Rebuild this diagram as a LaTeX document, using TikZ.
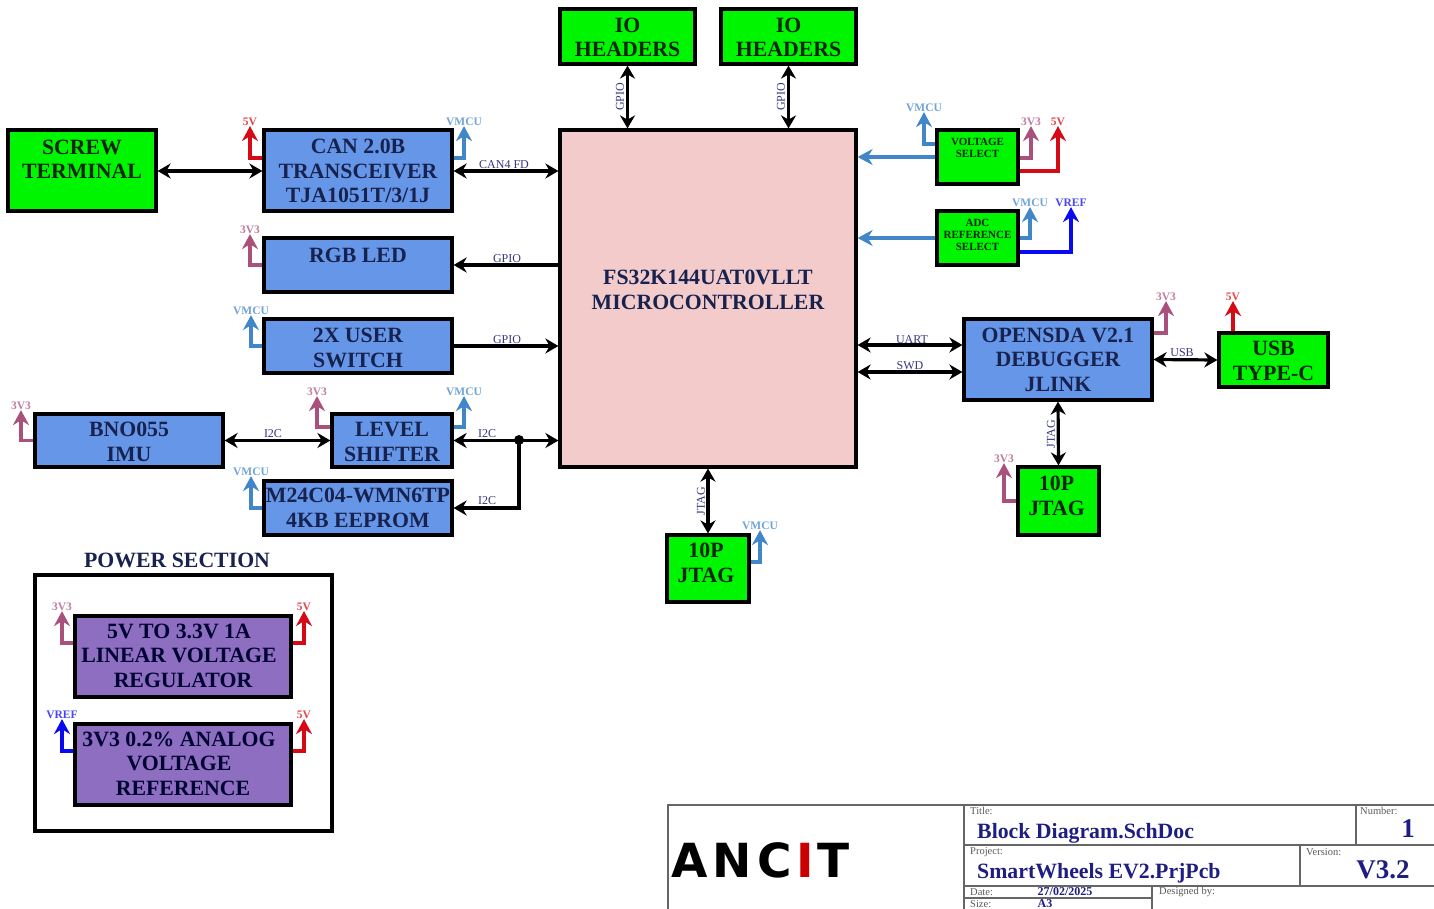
\documentclass[tikz,border=0pt]{standalone}
\usepackage{fontspec}
\setmainfont{Liberation Serif}
\newfontfamily\logofont{DejaVu Sans}
\usetikzlibrary{arrows.meta,calc}
\definecolor{chipgreen}{RGB}{0,245,0}
\definecolor{chipblue}{RGB}{102,150,232}
\definecolor{chippink}{RGB}{243,203,203}
\definecolor{chippurple}{RGB}{142,110,192}
\definecolor{inkblue}{RGB}{24,34,78}
\definecolor{railfive}{RGB}{214,10,20}
\definecolor{railthree}{RGB}{170,80,125}
\definecolor{railmcu}{RGB}{64,134,200}
\definecolor{railref}{RGB}{10,10,240}
\definecolor{navytext}{RGB}{30,30,130}
\tikzset{
  lift/.style={text height=#1,text depth=0pt},
  block/.style={draw=black,line width=3.2pt,inner sep=0pt,align=center,lift=41pt,
    font=\fontsize{21.8}{24.5}\selectfont\bfseries,text=inkblue},
  greenblock/.style={block,fill=chipgreen,text=black!85!green},
  blueblock/.style={block,fill=chipblue},
  purpleblock/.style={block,fill=chippurple,text=black!80!blue,lift=61pt},
  tinyblock/.style={greenblock,text height={},font=\fontsize{11}{12}\selectfont\bfseries},
  bus/.style={line width=3.2pt,{Stealth[length=13pt,width=15pt]}-{Stealth[length=13pt,width=15pt]}},
  bus1/.style={line width=3.2pt,-{Stealth[length=13pt,width=15pt]}},
  rail/.style={line width=3.6pt,color=#1,-{Stealth[length=15pt,width=16pt]}},
  railtag/.style={font=\fontsize{11.5}{12}\selectfont\bfseries,text=#1,inner sep=0pt,text opacity=.75},
  wiretag/.style={font=\fontsize{12}{12}\selectfont,text=navytext!75!gray,inner sep=0pt},
  grid/.style={line width=1.3pt,draw=black!60},
  small/.style={font=\fontsize{10.5}{12}\selectfont,text=black!65,inner sep=0pt,anchor=west},
  big/.style={font=\fontsize{#1}{24}\selectfont\bfseries,text=navytext,inner sep=0pt}
}
\begin{document}
\begin{tikzpicture}[x=1pt,y=-1pt]
  \useasboundingbox (0,0) rectangle (1434,909);
  % central device and headers
  \node[block,fill=chippink,minimum width=296pt,minimum height=337pt] (mcu) at (708,298.5) {};
  \node[block,draw=none,lift=38pt] (mcutext) at (708,290) {FS32K144UAT0VLLT\\MICROCONTROLLER};
  \node[greenblock,minimum width=135pt,minimum height=55pt] (hdra) at (627.5,36.5) {IO\\HEADERS};
  \node[greenblock,minimum width=135pt,minimum height=55pt] (hdrb) at (788.5,36.5) {IO\\HEADERS};
  % left column
  \node[greenblock,minimum width=148pt,minimum height=81pt,lift=17pt] (screw) at (82,170.5) {SCREW\\TERMINAL};
  \node[blueblock,minimum width=188pt,minimum height=81pt,lift=65pt] (can) at (358,170.5) {CAN 2.0B\\TRANSCEIVER\\TJA1051T/3/1J};
  \node[blueblock,minimum width=188pt,minimum height=54pt,text height=0pt,text depth=6pt] (rgb) at (358,265) {RGB LED};
  \node[blueblock,minimum width=188pt,minimum height=54pt,lift=42pt] (sw) at (358,346) {2X USER\\SWITCH};
  \node[blueblock,minimum width=188pt,minimum height=53pt] (imu) at (129,440.5) {BNO055\\IMU};
  \node[blueblock,minimum width=120pt,minimum height=53pt] (lvl) at (392,440.5) {LEVEL\\SHIFTER};
  \node[blueblock,minimum width=188pt,minimum height=54pt,lift=38pt] (eep) at (358,508) {M24C04-WMN6TP\\4KB EEPROM};
  % right side
  \node[tinyblock,minimum width=81pt,minimum height=54pt,text depth=18pt] (vsel) at (977.5,157) {VOLTAGE\\SELECT};
  \node[tinyblock,minimum width=81pt,minimum height=54pt,text depth=6pt] (adc) at (977.5,238) {ADC\\REFERENCE\\SELECT};
  \node[blueblock,minimum width=188pt,minimum height=81pt,lift=63pt] (sda) at (1058,359.5) {OPENSDA V2.1\\DEBUGGER\\JLINK};
  \node[greenblock,minimum width=109pt,minimum height=54pt,lift=40pt] (usb) at (1273.5,360) {USB\\TYPE-C};
  \node[greenblock,minimum width=81pt,minimum height=68pt,lift=28pt] (jtagr) at (1058.5,501) {10P\rule{4pt}{0pt}\\JTAG\rule{4pt}{0pt}};
  \node[greenblock,minimum width=82pt,minimum height=67pt,lift=27pt] (jtagb) at (708,568.5) {10P\rule{4pt}{0pt}\\JTAG\rule{4pt}{0pt}};
  % power section
  \node[draw=black,line width=3.2pt,minimum width=297pt,minimum height=256pt] (pwr) at (183.5,703) {};
  \node[font=\fontsize{21.8}{24}\selectfont\bfseries,text=inkblue] (pwrname) at (177,560) {POWER SECTION};
  \node[purpleblock,minimum width=216pt,minimum height=81pt] (reg) at (183,656.5) {5V TO 3.3V 1A\rule{8pt}{0pt}\\LINEAR VOLTAGE\rule{8pt}{0pt}\\REGULATOR};
  \node[purpleblock,minimum width=216pt,minimum height=81pt] (ref) at (183,764.5) {3V3 0.2\% ANALOG\rule{8pt}{0pt}\\VOLTAGE\rule{8pt}{0pt}\\REFERENCE};
  % buses
  \draw[bus] (hdra.south) -- (hdra.south |- mcu.north);
  \draw[bus] (hdrb.south) -- (hdrb.south |- mcu.north);
  \draw[bus] (screw.east |- 0,171) -- (can.west |- 0,171);
  \draw[bus] (can.east |- 0,171) -- (mcu.west |- 0,171);
  \draw[bus1] (mcu.west |- rgb.east) -- (rgb.east);
  \draw[bus1] (sw.east) -- (mcu.west |- sw.east);
  \draw[bus] (imu.east) -- (lvl.west);
  \draw[bus] (lvl.east) -- (mcu.west |- lvl.east);
  \coordinate (tee) at (519,440);
  \fill (tee) circle (5pt);
  \draw[bus1] (tee) |- (eep.east);
  \draw[bus] (mcu.east |- 0,345) -- (sda.west |- 0,345);
  \draw[bus] (mcu.east |- 0,372) -- (sda.west |- 0,372);
  \draw[bus] (sda.east) -- (usb.west);
  \draw[bus] (sda.south) -- (jtagr.north);
  \draw[bus] (mcu.south) -- (jtagb.north);
  % select lines
  \draw[rail=railmcu] (vsel.west) -- (mcu.east |- vsel.west);
  \draw[rail=railmcu] (adc.west) -- (mcu.east |- adc.west);
  % bus names
  \node[wiretag,rotate=90] (gpa) at (620,97) {GPIO};
  \node[wiretag,rotate=90] (gpb) at (781,97) {GPIO};
  \node[wiretag] (cantag) at (504,165) {CAN4 FD};
  \node[wiretag] (rgbtag) at (507,259) {GPIO};
  \node[wiretag] (swtag) at (507,340) {GPIO};
  \node[wiretag] (imutag) at (273,434) {I2C};
  \node[wiretag] (lvltag) at (487,434) {I2C};
  \node[wiretag] (eeptag) at (487,501) {I2C};
  \node[wiretag] (uarttag) at (912,340) {UART};
  \node[wiretag] (swdtag) at (910,366) {SWD};
  \node[wiretag] (usbtag) at (1182,353) {USB};
  \node[wiretag,rotate=90] (jrtag) at (1051,434) {JTAG};
  \node[wiretag,rotate=90] (jbtag) at (701,501) {JTAG};
  % power rails
  \node[railtag=railfive] (v5can) at (250,122) {5V};
  \node[railtag=railmcu] (mcucan) at (464,122) {VMCU};
  \node[railtag=railthree] (v3rgb) at (250,230) {3V3};
  \node[railtag=railmcu] (mcusw) at (251,311) {VMCU};
  \node[railtag=railthree] (v3imu) at (21,406) {3V3};
  \node[railtag=railthree] (v3lvl) at (317,392) {3V3};
  \node[railtag=railmcu] (mculvl) at (464,392) {VMCU};
  \node[railtag=railmcu] (mcueep) at (251,472) {VMCU};
  \node[railtag=railmcu] (mcuvs) at (924,108) {VMCU};
  \node[railtag=railthree] (v3vs) at (1031,122) {3V3};
  \node[railtag=railfive] (v5vs) at (1058,122) {5V};
  \node[railtag=railmcu] (mcuadc) at (1030,203) {VMCU};
  \node[railtag=railref] (vrefadc) at (1071,203) {VREF};
  \node[railtag=railthree] (v3sda) at (1166,297) {3V3};
  \node[railtag=railfive] (v5usb) at (1233,297) {5V};
  \node[railtag=railthree] (v3jt) at (1004,459) {3V3};
  \node[railtag=railmcu] (mcujt) at (760,526) {VMCU};
  \node[railtag=railthree] (v3reg) at (62,607) {3V3};
  \node[railtag=railfive] (v5reg) at (304,607) {5V};
  \node[railtag=railref] (vrefref) at (62,715) {VREF};
  \node[railtag=railfive] (v5ref) at (304,715) {5V};
  \draw[rail=railfive] (can.west |- 0,158) -| (v5can.south);
  \draw[rail=railmcu] (can.east |- 0,158) -| (mcucan.south);
  \draw[rail=railthree] (rgb.west) -| (v3rgb.south);
  \draw[rail=railmcu] (sw.west) -| (mcusw.south);
  \draw[rail=railthree] (imu.west) -| (v3imu.south);
  \draw[rail=railthree] (lvl.west |- 0,427) -| (v3lvl.south);
  \draw[rail=railmcu] (lvl.east |- 0,427) -| (mculvl.south);
  \draw[rail=railmcu] (eep.west |- 0,508) -| (mcueep.south);
  \draw[rail=railmcu] (vsel.west |- 0,144) -| (mcuvs.south);
  \draw[rail=railthree] (vsel.east |- 0,158) -| (v3vs.south);
  \draw[rail=railfive] (vsel.east |- 0,171) -| (v5vs.south);
  \draw[rail=railmcu] (adc.east |- 0,238) -| (mcuadc.south);
  \draw[rail=railref] (adc.east |- 0,252) -| (vrefadc.south);
  \draw[rail=railthree] (sda.east |- 0,333) -| (v3sda.south);
  \draw[rail=railfive] (usb.north -| v5usb.south) -- (v5usb.south);
  \draw[rail=railthree] (jtagr.west) -| (v3jt.south);
  \draw[rail=railmcu] (jtagb.east |- 0,562) -| (mcujt.south);
  \draw[rail=railthree] (reg.west |- 0,643) -| (v3reg.south);
  \draw[rail=railfive] (reg.east |- 0,643) -| (v5reg.south);
  \draw[rail=railref] (ref.west |- 0,751) -| (vrefref.south);
  \draw[rail=railfive] (ref.east |- 0,751) -| (v5ref.south);
  % title block
  \draw[grid] (668,912) -- (668,805) -- (1440,805);
  \draw[grid] (964,805) -- (964,912);
  \draw[grid] (964,845) -- (1440,845);
  \draw[grid] (964,886) -- (1440,886);
  \draw[grid] (964,898) -- (1152,898);
  \draw[grid] (1152,886) -- (1152,912);
  \draw[grid] (1356,805) -- (1356,845);
  \draw[grid] (1300,845) -- (1300,886);
  \node[small] (ttl) at (970,811) {Title:};
  \node[small] (num) at (1360,811) {Number:};
  \node[small] (prj) at (970,852) {Project:};
  \node[small] (ver) at (1306,852) {Version:};
  \node[small] (dat) at (970,892) {Date:};
  \node[small] (siz) at (970,904) {Size:};
  \node[small] (dsg) at (1159,892) {Designed by:};
  \node[big=21.8,anchor=west] (ttlv) at (977,833) {Block Diagram.SchDoc};
  \node[big=21.8,anchor=west] (prjv) at (977,873) {SmartWheels EV2.PrjPcb};
  \node[big=27] (numv) at (1408,829) {1};
  \node[big=27] (verv) at (1383,870) {V3.2};
  \node[big=12] (datv) at (1065,892) {27/02/2025};
  \node[big=12] (sizv) at (1045,904) {A3};
  \node[inner sep=0pt,font=\logofont\fontsize{47}{47}\selectfont\bfseries] (logo) at (760.5,860)
    {A\kern5pt N\kern6pt C\kern4pt\textcolor{red!80!black}{I}\kern4pt T};
\end{tikzpicture}
\end{document}
